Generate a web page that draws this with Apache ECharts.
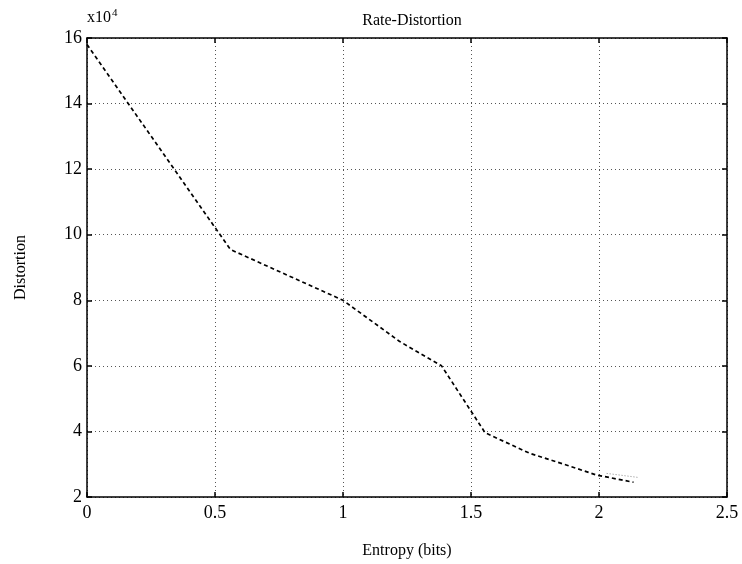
<!DOCTYPE html>
<html>
<head>
<meta charset="utf-8">
<script src="https://cdn.jsdelivr.net/npm/echarts@6/dist/echarts.min.js"></script>
<style>
  html, body { margin: 0; padding: 0; background: #fff; }
  #chart { width: 742px; height: 564px; }
</style>
</head>
<body>
<div id="chart"></div>
<script>
// Rate-distortion curve: entropy (bits) vs. distortion (in units of 10^4)
const entropy    = [0.0, 0.56, 1.0, 1.22, 1.385, 1.555, 1.73, 1.875, 1.99, 2.135];
const distortion = [15.8, 9.55, 8.0, 6.75, 6.0, 3.96, 3.33, 2.97, 2.67, 2.45];

// short faint trace near the end of the curve
const tailEntropy    = [2.03, 2.15];
const tailDistortion = [2.72, 2.6];

const xTicks = { min: 0, max: 2.5, step: 0.5 };
const yTicks = { min: 2, max: 16, step: 2 };

const serif = '"Liberation Serif", "DejaVu Serif", serif';

function pairs(xs, ys) { return xs.map((x, i) => [x, ys[i]]); }

const chart = echarts.init(document.getElementById('chart'), null, { renderer: 'canvas' });

const frameLine = { show: true, onZero: false, lineStyle: { color: '#000', width: 1.5 } };
const inTick = { show: true, inside: true, length: 5, lineStyle: { color: '#000', width: 1.5 } };
const gridDots = { show: true, lineStyle: { color: '#555', width: 1, type: [1, 3] } };

chart.setOption({
  animation: false,
  backgroundColor: '#fff',
  title: {
    text: 'Rate-Distortion',
    left: 407, top: 8, textAlign: 'center',
    textStyle: { fontFamily: serif, fontSize: 16, fontWeight: 'normal', color: '#000' }
  },
  graphic: [
    {
      type: 'text', left: 87, top: 10,
      style: { text: 'x10', font: '16px ' + serif, fill: '#000' }
    },
    {
      type: 'text', left: 112, top: 8,
      style: { text: '4', font: '11px ' + serif, fill: '#000' }
    }
  ],
  grid: { left: 87, top: 38, right: 15, bottom: 66, containLabel: false },
  xAxis: [
    {
      type: 'value', position: 'bottom',
      min: xTicks.min, max: xTicks.max, interval: xTicks.step,
      name: 'Entropy (bits)', nameLocation: 'middle', nameGap: 46,
      nameTextStyle: { fontFamily: serif, fontSize: 16, color: '#000' },
      axisLine: frameLine, axisTick: inTick,
      axisLabel: { fontFamily: serif, fontSize: 18, color: '#000', margin: 7,
        formatter: v => String(+v.toFixed(1)) },
      splitLine: gridDots
    },
    {
      type: 'value', position: 'top',
      min: xTicks.min, max: xTicks.max, interval: xTicks.step,
      axisLine: frameLine, axisTick: inTick,
      axisLabel: { show: false }, splitLine: { show: false }
    }
  ],
  yAxis: [
    {
      type: 'value', position: 'left',
      min: yTicks.min, max: yTicks.max, interval: yTicks.step,
      name: 'Distortion', nameLocation: 'middle', nameGap: 58, nameRotate: 90,
      nameTextStyle: { fontFamily: serif, fontSize: 16, color: '#000' },
      axisLine: frameLine, axisTick: inTick,
      axisLabel: { fontFamily: serif, fontSize: 18, color: '#000', margin: 5 },
      splitLine: gridDots
    },
    {
      type: 'value', position: 'right',
      min: yTicks.min, max: yTicks.max, interval: yTicks.step,
      axisLine: frameLine, axisTick: inTick,
      axisLabel: { show: false }, splitLine: { show: false }
    }
  ],
  series: [
    {
      type: 'line', xAxisIndex: 0, yAxisIndex: 0,
      data: pairs(entropy, distortion),
      showSymbol: false, smooth: false,
      lineStyle: { color: '#000', width: 1.7, type: [4, 3] }
    },
    {
      type: 'line', xAxisIndex: 0, yAxisIndex: 0,
      data: pairs(tailEntropy, tailDistortion),
      showSymbol: false,
      lineStyle: { color: '#888', width: 1, type: [1, 2] }
    }
  ]
});
</script>
</body>
</html>
